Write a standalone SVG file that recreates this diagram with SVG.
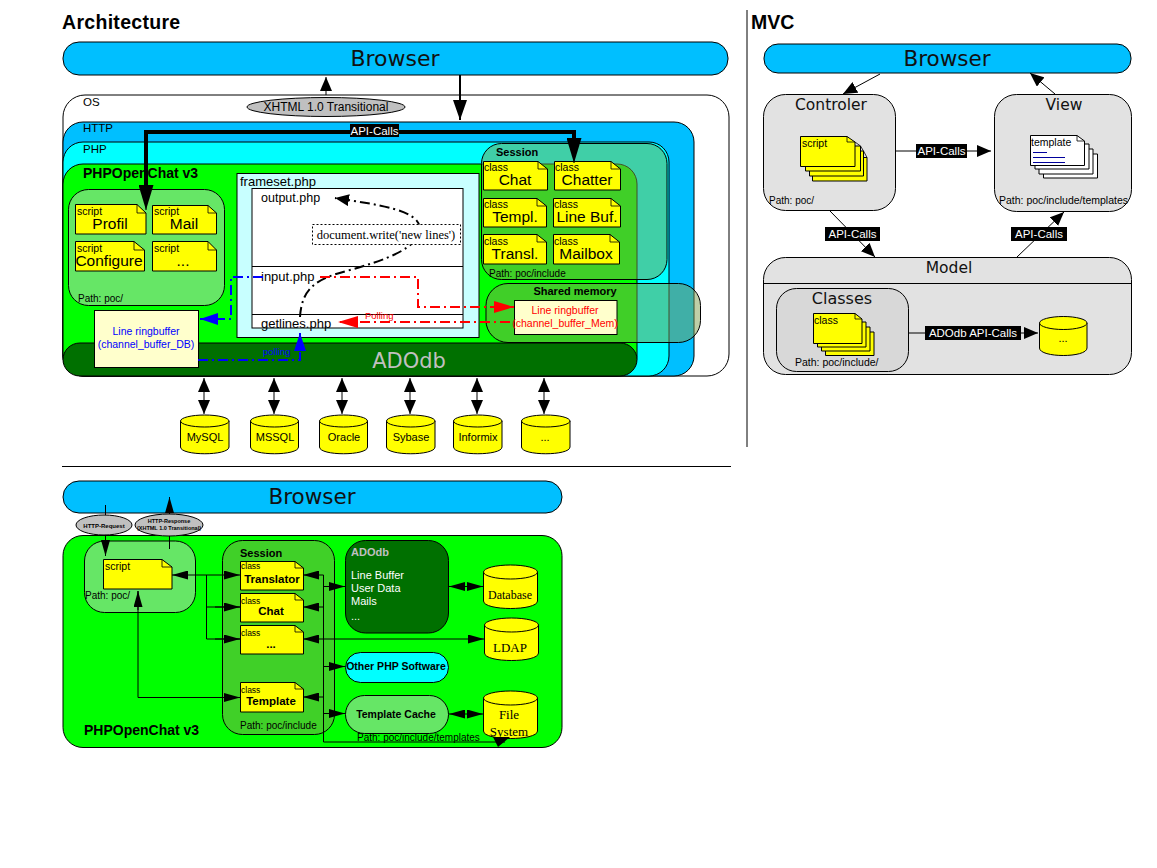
<svg xmlns="http://www.w3.org/2000/svg" width="1157" height="868" viewBox="0 0 1157 868">
<style>
text{font-family:"Liberation Sans",Arial,sans-serif;fill:#000}
.v{font-family:"DejaVu Sans",Verdana,sans-serif;fill:#111}
.m{text-anchor:middle}
.b{font-weight:bold}
.box{stroke:#000;stroke-width:1}
.blue{fill:#00bfff}
.cy{fill:#00ffff}
.gr{fill:#00ff00}
.dk{fill:#007000}
.lg{fill:#66e666}
.sess{fill:#80a050;fill-opacity:.5}
.gray{fill:#e2e2e2}
.note{fill:#ffff00;stroke:#000;stroke-width:1}
.fold{fill:none;stroke:#000;stroke-width:.8}
.w{fill:#fff;stroke:#000}
.lbl{fill:#000}
.lt{fill:#fff;font-size:11.500px;text-anchor:middle}
.c{font-size:10.500px}
.t{font-size:15.500px;text-anchor:middle}
.p{font-size:10px}
.p2{font-size:10.500px}
.f{font-size:13px}
.db{fill:#ffff00;stroke:#000;stroke-width:1}
.dbt{font-size:11px;text-anchor:middle}
.sf{font-family:"Liberation Serif",serif}
.ln{fill:none;stroke:#000;stroke-width:1}
.ln2{fill:none;stroke:#000;stroke-width:2}
.thick{fill:none;stroke:#000;stroke-width:4}
.rb{fill:#ffffcc;stroke:#000}
.dbu{fill:none;stroke:#0000ff;stroke-width:2;stroke-dasharray:10 4 2 4}
.dre{fill:none;stroke:#ff0000;stroke-width:2;stroke-dasharray:10 4 2 4}
.dbk{fill:none;stroke:#000;stroke-width:2;stroke-dasharray:10 4 2 4}
</style>
<defs>
<marker id="a" markerUnits="userSpaceOnUse" viewBox="0 0 14 12" refX="14" refY="6" markerWidth="14" markerHeight="12" orient="auto-start-reverse"><path d="M0 0L14 6L0 12z"/></marker>
<marker id="s" markerUnits="userSpaceOnUse" viewBox="0 0 16 9" refX="16" refY="4.500" markerWidth="16" markerHeight="9" orient="auto-start-reverse"><path d="M0 0L16 4.500L0 9z"/></marker>
<marker id="md" markerUnits="userSpaceOnUse" viewBox="0 0 20 14" refX="20" refY="7" markerWidth="20" markerHeight="14" orient="auto"><path d="M0 0L20 7L0 14z"/></marker>
<marker id="big" markerUnits="userSpaceOnUse" viewBox="0 0 25 15" refX="25" refY="7.500" markerWidth="25" markerHeight="15" orient="auto"><path d="M0 0L25 7.500L0 15z"/></marker>
<marker id="ab" markerUnits="userSpaceOnUse" viewBox="0 0 18 12" refX="18" refY="6" markerWidth="18" markerHeight="12" orient="auto"><path d="M0 0L18 6L0 12z" fill="#0000ff"/></marker>
<marker id="ar" markerUnits="userSpaceOnUse" viewBox="0 0 20 12" refX="20" refY="6" markerWidth="20" markerHeight="12" orient="auto"><path d="M0 0L20 6L0 12z" fill="#ff0000"/></marker>
</defs>
<rect width="1157" height="868" fill="#fff"/>

<text x="62" y="29" class="b" font-size="19.500" letter-spacing=".3">Architecture</text>
<text x="751" y="29" class="b" font-size="19.500">MVC</text>
<path d="M747 10V447M62 466.500H731" class="ln"/>

<g id="top-browser"><rect x="63" y="42" width="665" height="33" rx="16" class="blue box"/><text x="395" y="66" class="v m" font-size="22">Browser</text></g>
<g id="os"><rect x="63" y="95" width="666" height="281" rx="22" fill="#fff" class="box"/><text x="83" y="106" font-size="11.500">OS</text></g>
<g id="http"><rect x="63" y="122" width="631" height="254" rx="20" class="blue box"/><text x="83" y="132" font-size="11.500">HTTP</text></g>
<g id="php"><rect x="63" y="142" width="606" height="234" rx="20" class="cy box"/><text x="83" y="153" font-size="11.500">PHP</text></g>
<g id="phpopenchat"><rect x="63" y="164" width="574" height="212" rx="20" class="gr box"/><text x="83" y="178" class="b" font-size="14">PHPOpenChat v3</text></g>
<g id="adodb"><rect x="63" y="343" width="574" height="33" rx="17" class="dk box"/><text x="409" y="368" class="v m" font-size="21" style="fill:#c0c0c0">ADOdb</text></g>

<g id="scripts">
<rect x="68.500" y="189.500" width="156" height="116" rx="20" class="lg box"/>
<text x="78" y="302" class="p">Path: poc/</text>
<path class="note" d="M75.500 204.500H137L146 213V234H75.500z"/><path class="fold" d="M137 204.500V213H146"/><text x="77" y="215" class="c">script</text><text x="110" y="229" class="t">Profil</text>
<path class="note" d="M152.500 205.500H208L216.500 213V234H152.500z"/><path class="fold" d="M208 205.500V213H216.500"/><text x="154" y="215" class="c">script</text><text x="184" y="229" class="t">Mail</text>
<path class="note" d="M75.500 241.500H134L144.500 250V271H75.500z"/><path class="fold" d="M134 241.500V250H144.500"/><text x="77" y="252" class="c">script</text><text x="109" y="266" class="t">Configure</text>
<path class="note" d="M152.500 241.500H208L216.500 250V271H152.500z"/><path class="fold" d="M208 241.500V250H216.500"/><text x="154" y="252" class="c">script</text><text x="183" y="266" class="t">...</text>
</g>

<g id="frameset">
<rect x="237" y="173.500" width="242" height="164" fill="#c8ffff" class="box"/>
<text x="240" y="186" class="f">frameset.php</text>
<rect x="252" y="188.500" width="211" height="139.500" fill="#fff" class="box"/>
<path d="M252 266.500H463M252 314.500H463" class="ln"/>
<text x="261" y="202" font-size="12.500">output.php</text>
<text x="261" y="281" class="f">input.php</text>
<text x="261" y="328" class="f">getlines.php</text>
</g>

<g id="ringbuffer-db"><rect x="94.500" y="310.500" width="104" height="57" class="rb"/><text x="146" y="335" class="m" font-size="10.500" style="fill:#0000ff">Line ringbuffer</text><text x="146" y="348" class="m" font-size="10.500" style="fill:#0000ff">(channel_buffer_DB)</text></g>

<g id="session">
<rect x="481.500" y="143.500" width="185.500" height="136" rx="20" class="sess box"/>
<text x="496" y="156" class="b" font-size="11">Session</text>
<text x="489" y="277" class="p">Path: poc/include</text>
<path class="note" d="M483.500 161.500H538L547.500 169V190H483.500z"/><path class="fold" d="M538 161.500V169H547.500"/><text x="484" y="171" class="c">class</text><text x="515" y="185" class="t">Chat</text>
<path class="note" d="M554.500 161.500H611L620.500 169V190H554.500z"/><path class="fold" d="M611 161.500V169H620.500"/><text x="555" y="171" class="c">class</text><text x="587" y="185" class="t">Chatter</text>
<path class="note" d="M483.500 198.500H537L546.500 206V227H483.500z"/><path class="fold" d="M537 198.500V206H546.500"/><text x="484" y="208" class="c">class</text><text x="515" y="222" class="t">Templ.</text>
<path class="note" d="M553.500 198.500H611L620.500 206V227H553.500z"/><path class="fold" d="M611 198.500V206H620.500"/><text x="554" y="208" class="c">class</text><text x="587" y="222" class="t">Line Buf.</text>
<path class="note" d="M483.500 234.500H537L546.500 242V264H483.500z"/><path class="fold" d="M537 234.500V242H546.500"/><text x="484" y="245" class="c">class</text><text x="515" y="259" class="t">Transl.</text>
<path class="note" d="M553.500 234.500H610L619.500 242V264H553.500z"/><path class="fold" d="M610 234.500V242H619.500"/><text x="554" y="245" class="c">class</text><text x="586" y="259" class="t">Mailbox</text>
</g>

<g id="shared-memory">
<rect x="486" y="283.500" width="214.500" height="59" rx="22" class="sess box"/>
<text x="575" y="295" class="m b" font-size="11">Shared memory</text>
<rect x="514.500" y="300.500" width="102.500" height="34" class="rb"/>
<text x="565" y="314" class="m" font-size="10.500" style="fill:#ff0000">Line ringbuffer</text>
<text x="565" y="327" class="m" font-size="10.500" style="fill:#ff0000">(channel_buffer_Mem)</text>
</g>

<g id="connectors-top">
<path d="M326 95V77" class="ln" marker-end="url(#a)"/>
<path d="M460 75V120" class="ln2" marker-end="url(#md)"/>
<path d="M146 190V132H574V145" class="thick"/>
<path d="M146 185V210" class="ln" marker-end="url(#big)"/>
<path d="M574 138V163" class="ln" marker-end="url(#big)"/>
<path d="M300 317C302 285 320 278 350 270C385 260 420 248 420 228C418 210 380 205 335 198" class="dbk" marker-end="url(#a)"/>
<path d="M263 277H231V319H200" class="dbu" marker-end="url(#ab)"/>
<path d="M198 360H300V333" class="dbu" marker-end="url(#ab)"/>
<path d="M320 277H418V307H514" class="dre" marker-end="url(#ar)"/>
<path d="M510 322H338" class="dre" marker-end="url(#ar)"/>
<text x="263" y="355" font-size="9.500" style="fill:#0000ff">polling</text>
<text x="365" y="319" font-size="9.500" style="fill:#ff0000">Polling</text>
</g>

<g id="docwrite"><rect x="312.500" y="224.500" width="148" height="20" fill="#fff" stroke="#000" stroke-dasharray="2 2"/><text x="386" y="239" class="m sf" font-size="12.500">document.write('new lines')</text></g>

<g id="xhtml"><ellipse cx="326" cy="107" rx="79" ry="9.500" fill="#c0c0c0" class="box"/><text x="326" y="111" class="m" font-size="12">XHTML 1.0 Transitional</text></g>

<g id="api-top"><rect x="350" y="124" width="49" height="13" class="lbl"/><text x="374.500" y="135" class="lt">API-Calls</text></g>

<g id="db-arrows">
<path d="M204 378V414" class="ln" marker-start="url(#a)" marker-end="url(#a)"/><path d="M274 378V414" class="ln" marker-start="url(#a)" marker-end="url(#a)"/><path d="M342 378V414" class="ln" marker-start="url(#a)" marker-end="url(#a)"/><path d="M410 378V414" class="ln" marker-start="url(#a)" marker-end="url(#a)"/><path d="M477 378V414" class="ln" marker-start="url(#a)" marker-end="url(#a)"/><path d="M544 378V414" class="ln" marker-start="url(#a)" marker-end="url(#a)"/>
</g>
<g id="db-mysql"><path class="db" d="M180.500 421V447C180.500 456 229 456 229 447V421"/><ellipse class="db" cx="204.750" cy="421" rx="24.250" ry="6"/><text x="205" y="441" class="dbt">MySQL</text></g>
<g id="db-mssql"><path class="db" d="M250.500 421V447C250.500 456 298.500 456 298.500 447V421"/><ellipse class="db" cx="274.500" cy="421" rx="24" ry="6"/><text x="275" y="441" class="dbt">MSSQL</text></g>
<g id="db-oracle"><path class="db" d="M319.500 421V447C319.500 456 367.500 456 367.500 447V421"/><ellipse class="db" cx="343.500" cy="421" rx="24" ry="6"/><text x="344" y="441" class="dbt">Oracle</text></g>
<g id="db-sybase"><path class="db" d="M386.500 421V447C386.500 456 435 456 435 447V421"/><ellipse class="db" cx="410.750" cy="421" rx="24.250" ry="6"/><text x="411" y="441" class="dbt">Sybase</text></g>
<g id="db-informix"><path class="db" d="M453.500 421V447C453.500 456 502 456 502 447V421"/><ellipse class="db" cx="477.750" cy="421" rx="24.250" ry="6"/><text x="478" y="441" class="dbt">Informix</text></g>
<g id="db-other"><path class="db" d="M521.500 421V447C521.500 456 570 456 570 447V421"/><ellipse class="db" cx="545.750" cy="421" rx="24.250" ry="6"/><text x="545" y="441" class="dbt">...</text></g>

<g id="mvc-browser"><rect x="764" y="44" width="367" height="29" rx="14" class="blue box"/><text x="947" y="66" class="v m" font-size="21.500">Browser</text></g>
<g id="controler"><rect x="763.500" y="94.500" width="132" height="116" rx="22" class="gray box"/><text x="831" y="110" class="v m" font-size="15.500">Controler</text><text x="769" y="204" class="p">Path: poc/</text>
<path class="note" d="M812.500 157.500H867V181H812.500z"/><path class="note" d="M809.500 151H863.500V176H809.500z"/><path class="note" d="M805.500 146H860.500V171H805.500z"/>
<path class="note" d="M800.500 136.500H847L855 142V166.500H800.500z"/><path class="fold" d="M847 136.500V142H855M855 142L860.500 146M860.500 146L863.500 151M863.500 151L867 157.500"/><text x="802" y="147" class="c">script</text></g>
<g id="view"><rect x="994.500" y="94.500" width="137" height="117" rx="22" class="gray box"/><text x="1064" y="110" class="v m" font-size="15.500">View</text><text x="999" y="204" class="p2">Path: poc/include/templates</text>
<path class="w" d="M1043.500 154H1097.500V178H1043.500z"/><path class="w" d="M1039 149H1093V174H1039z"/><path class="w" d="M1035 144H1089V169H1035z"/>
<path class="w" d="M1030.500 135.500H1077L1084.500 141V165.500H1030.500z"/><path class="fold" d="M1077 135.500V141H1084.500"/><text x="1031" y="146" class="c">template</text>
<path d="M1033 152.500H1047M1033 157.500H1065M1033 162.500H1065" fill="none" stroke="#00009c"/></g>
<g id="model"><rect x="763.500" y="257.500" width="368" height="117" rx="22" class="gray box"/><path d="M763.500 283.500H1131.500" class="ln"/><text x="949" y="273" class="v m" font-size="15.500">Model</text></g>
<g id="classes"><rect x="776.500" y="288.500" width="132" height="83" rx="20" fill="#d8d8d8" class="box"/><text x="842" y="304" class="v m" font-size="16">Classes</text><text x="795" y="366" class="p2">Path: poc/include/</text>
<path class="note" d="M825.500 332H874V355.500H825.500z"/><path class="note" d="M821.500 327H870V351H821.500z"/><path class="note" d="M817.500 322H866V347H817.500z"/>
<path class="note" d="M813.500 313.500H855L862 319V343.500H813.500z"/><path class="fold" d="M855 313.500V319H862"/><text x="814" y="324" class="c">class</text></g>
<g id="mvc-db"><path class="db" d="M1039.500 323V348C1039.500 358 1087 358 1087 348V323"/><ellipse class="db" cx="1063.250" cy="323" rx="23.750" ry="6.500"/><text x="1063" y="342" class="dbt">...</text></g>
<g id="connectors-mvc">
<path d="M880 74L843 94" class="ln" marker-end="url(#a)"/>
<path d="M1055 94L1030 73" class="ln" marker-end="url(#a)"/>
<path d="M895 151H991" class="ln" marker-end="url(#a)"/>
<path d="M830 211L875 257" class="ln" marker-end="url(#a)"/>
<path d="M1017 257L1064 212" class="ln" marker-end="url(#a)"/>
<path d="M908 333H1038" class="ln" marker-end="url(#a)"/>
<rect x="916" y="144" width="51" height="14" class="lbl"/><text x="941.500" y="155" class="lt">API-Calls</text>
<rect x="825" y="227" width="55" height="14" class="lbl"/><text x="852.500" y="238" class="lt">API-Calls</text>
<rect x="1011" y="227" width="56" height="14" class="lbl"/><text x="1039" y="238" class="lt">API-Calls</text>
<rect x="925" y="326" width="96" height="14" class="lbl"/><text x="973" y="337" class="lt">ADOdb API-Calls</text>
</g>

<g id="bottom-browser"><rect x="63" y="481" width="499" height="32" rx="16" class="blue box"/><text x="312" y="504" class="v m" font-size="21.500">Browser</text></g>
<g id="bottom-phpopenchat"><rect x="63" y="535.500" width="499" height="212" rx="20" class="gr box"/><text x="84" y="735" class="b" font-size="14">PHPOpenChat v3</text></g>
<g id="bottom-script"><rect x="84.500" y="541" width="111" height="71.500" rx="20" class="lg box"/><text x="85" y="599" class="p">Path: poc/</text>
<path class="note" d="M103.500 559.500H162L172 567V589H103.500z"/><path class="fold" d="M162 559.500V567H172"/><text x="105" y="570" class="c">script</text></g>
<g id="bottom-session"><rect x="222.500" y="540.500" width="112" height="194" rx="20" fill="#40d028" class="box"/><text x="240" y="557" class="b" font-size="11">Session</text><text x="240" y="729" class="p">Path: poc/include</text>
<path class="note" d="M240.500 561.500H295L303.500 568V590H240.500z"/><path class="fold" d="M295 561.500V568H303.500"/><text x="241" y="569" font-size="8.500">class</text><text x="272" y="583" class="m b" font-size="11.500">Translator</text>
<path class="note" d="M240.500 593.500H295L303.500 600V622H240.500z"/><path class="fold" d="M295 593.500V600H303.500"/><text x="241" y="604" font-size="8.500">class</text><text x="271" y="615" class="m b" font-size="11.500">Chat</text>
<path class="note" d="M240.500 625.500H295L303.500 632V654H240.500z"/><path class="fold" d="M295 625.500V632H303.500"/><text x="241" y="636" font-size="8.500">class</text><text x="271" y="648" class="m b" font-size="11.500">...</text>
<path class="note" d="M240.500 682.500H295L303.500 689V712H240.500z"/><path class="fold" d="M295 682.500V689H303.500"/><text x="241" y="693" font-size="8.500">class</text><text x="271" y="705" class="m b" font-size="11.500">Template</text></g>
<g id="bottom-adodb"><rect x="345.500" y="540.500" width="103" height="92.500" rx="20" class="dk box"/><text x="351" y="556" class="b" font-size="11" style="fill:#c0c0c0">ADOdb</text><g font-size="11"><text x="351" y="579" style="fill:#fff">Line Buffer</text><text x="351" y="592" style="fill:#fff">User Data</text><text x="351" y="605" style="fill:#fff">Mails</text><text x="351" y="620" style="fill:#fff">...</text></g></g>
<g id="other-php"><rect x="345.500" y="652.500" width="103" height="30" rx="15" class="cy box"/><text x="396" y="670" class="m b" font-size="10.500">Other PHP Software</text></g>
<g id="template-cache"><rect x="345.500" y="695.500" width="103" height="38" rx="19" class="lg box"/><text x="396" y="718" class="m b" font-size="10.500">Template Cache</text></g>
<text x="357" y="741" class="p">Path: poc/include/templates</text>
<g id="bottom-db"><path class="db" d="M483.500 572V601C483.500 611 537.500 611 537.500 601V572"/><ellipse class="db" cx="510.500" cy="572" rx="27" ry="7"/><text x="510" y="599" class="m sf" font-size="12">Database</text></g>
<g id="bottom-ldap"><path class="db" d="M484.500 625V653C484.500 663 538.500 663 538.500 653V625"/><ellipse class="db" cx="511.500" cy="625" rx="27" ry="7"/><text x="510" y="652" class="m sf f">LDAP</text></g>
<g id="bottom-fs"><path class="db" d="M483.500 698V731C483.500 741 537.500 741 537.500 731V698"/><ellipse class="db" cx="510.500" cy="698" rx="27" ry="7"/><text x="509" y="719" class="m sf f">File</text><text x="509" y="736" class="m sf f">System</text></g>

<g id="connectors-bottom">
<path d="M105.500 505V556" class="ln" marker-end="url(#s)"/>
<path d="M169.500 549V497" class="ln" marker-end="url(#s)"/>
<path d="M172 575H240" class="ln" marker-start="url(#s)" marker-end="url(#s)"/>
<path d="M206.500 575V639H240M206.500 607H240" class="ln"/>
<path d="M215 607H240" class="ln" marker-end="url(#s)"/><path d="M215 639H240" class="ln" marker-end="url(#s)"/>
<path d="M138 591V697.500H240" class="ln"/>
<path d="M138 610V591" class="ln" marker-end="url(#s)"/><path d="M215 697.500H240" class="ln" marker-end="url(#s)"/>
<path d="M323.500 575V742H505" class="ln"/>
<path d="M493 737H510L498 747z"/>
<path d="M323.500 575H303" class="ln" marker-end="url(#s)"/><path d="M323.500 607H303" class="ln" marker-end="url(#s)"/><path d="M323.500 639H303" class="ln" marker-end="url(#s)"/><path d="M323.500 697H303" class="ln" marker-end="url(#s)"/>
<path d="M323.500 586.500H345" class="ln" marker-end="url(#s)"/><path d="M323.500 666.500H345" class="ln" marker-end="url(#s)"/><path d="M323.500 713.500H345" class="ln" marker-end="url(#s)"/>
<path d="M323.500 639H484" class="ln" marker-end="url(#s)"/>
<path d="M449 586.500H483" class="ln" marker-start="url(#s)" marker-end="url(#s)"/>
<path d="M449 714H483" class="ln" marker-start="url(#s)" marker-end="url(#s)"/>
</g>
<g id="http-request"><ellipse cx="104" cy="525" rx="28" ry="10" fill="#c0c0c0" class="box"/><text x="104" y="527.500" class="m b" font-size="6">HTTP-Request</text></g>
<g id="http-response"><ellipse cx="169" cy="525" rx="34" ry="11" fill="#c0c0c0" class="box"/><text x="169" y="523" class="m b" font-size="5.500">HTTP-Response</text><text x="169" y="530" class="m b" font-size="5.500">(XHTML 1.0 Transitional)</text></g>
</svg>
